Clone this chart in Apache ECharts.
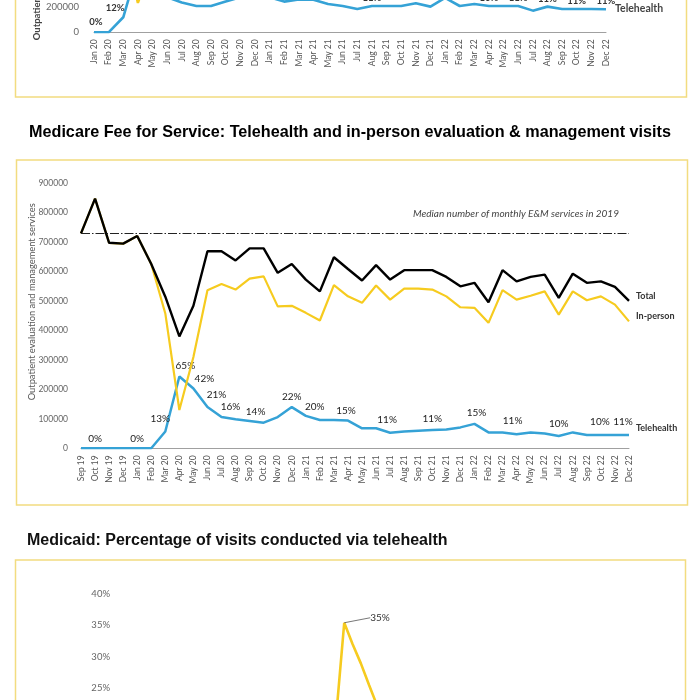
<!DOCTYPE html>
<html><head><meta charset="utf-8">
<script src="https://cdn.jsdelivr.net/npm/echarts@6/dist/echarts.min.js"></script>
<style>html,body{margin:0;padding:0;background:#fff}#c{width:700px;height:700px}</style>
</head><body><div id="c"></div>
<script>
// ---------- DATA ----------
const topMonths = ['Jan 20','Feb 20','Mar 20','Apr 20','May 20','Jun 20','Jul 20','Aug 20','Sep 20','Oct 20','Nov 20','Dec 20',
 'Jan 21','Feb 21','Mar 21','Apr 21','May 21','Jun 21','Jul 21','Aug 21','Sep 21','Oct 21','Nov 21','Dec 21',
 'Jan 22','Feb 22','Mar 22','Apr 22','May 22','Jun 22','Jul 22','Aug 22','Sep 22','Oct 22','Nov 22','Dec 22'];
const topTotal = [1010000,940000,840000,755000,990000,1100000,1088000,1040000,1080000,1125000,1040000,1060000,
 1010000,945000,1112000,1060000,1006000,1060000,976000,1040000,1040000,1030000,1032000,955000,
 1015000,900000,1046000,1000000,1010000,1020000,893000,1015000,966000,976000,946000,884000];
const topInPerson = [1010000,940000,720000,235000,560000,820000,850000,830000,870000,880000,760000,760000,
 730000,700000,850000,800000,780000,850000,790000,830000,830000,820000,800000,750000,
 740000,690000,820000,790000,800000,810000,720000,810000,780000,790000,760000,700000];
const topTele = [0,0,120000,520000,430000,280000,238000,210000,210000,245000,280000,300000,
 280000,245000,262000,260000,226000,210000,186000,210000,210000,210000,232000,205000,
 275000,210000,226000,210000,210000,210000,173000,205000,186000,186000,186000,184000];
const topTeleLabels = ['0%','','12%','','','','','','','','','','','','','','','','','11%','','','','','','','','10%','','11%','','11%','','11%','','11%'];

const mcMonths = ['Sep 19','Oct 19','Nov 19','Dec 19','Jan 20','Feb 20','Mar 20','Apr 20','May 20','Jun 20','Jul 20','Aug 20','Sep 20','Oct 20','Nov 20','Dec 20',
 'Jan 21','Feb 21','Mar 21','Apr 21','May 21','Jun 21','Jul 21','Aug 21','Sep 21','Oct 21','Nov 21','Dec 21',
 'Jan 22','Feb 22','Mar 22','Apr 22','May 22','Jun 22','Jul 22','Aug 22','Sep 22','Oct 22','Nov 22','Dec 22'];
const mcTotal = [730000,848000,698000,695000,721000,626000,515000,380000,484000,669000,669000,638000,679000,679000,596000,626000,
 573000,533000,649000,609000,570000,622000,573000,605000,605000,605000,582000,550000,
 562000,496000,605000,567000,582000,590000,511000,593000,562000,567000,548000,501000];
const mcInPerson = [730000,848000,698000,695000,721000,626000,458000,130000,310000,537000,558000,539000,576000,584000,482000,484000,
 460000,434000,554000,516000,494000,553000,505000,542000,542000,539000,516000,479000,
 477000,426000,537000,505000,518000,533000,454000,533000,503000,516000,488000,431000];
const mcTele = [0,0,0,0,0,0,57000,244000,203000,140000,106000,99000,93000,87000,106000,140000,
 110000,96000,96000,94000,68000,68000,53000,57000,60000,62000,64000,71000,
 83000,54000,54000,48000,54000,50000,42000,54000,45000,45000,45000,45000];
const mcTeleLabels = ['','0%','','','0%','','13%','65%','42%','21%','16%','','14%','','','22%','20%','','','15%','','','11%','','','11%','','','15%','','','11%','','','10%','','','10%','','11%'];
const mcMedian2019 = 730000;

const mdMonths = ['Jan 18','Feb 18','Mar 18','Apr 18','May 18','Jun 18','Jul 18','Aug 18','Sep 18','Oct 18','Nov 18','Dec 18',
 'Jan 19','Feb 19','Mar 19','Apr 19','May 19','Jun 19','Jul 19','Aug 19','Sep 19','Oct 19','Nov 19','Dec 19',
 'Jan 20','Feb 20','Mar 20','Apr 20','May 20','Jun 20','Jul 20','Aug 20','Sep 20','Oct 20','Nov 20','Dec 20',
 'Jan 21','Feb 21','Mar 21','Apr 21','May 21','Jun 21','Jul 21','Aug 21','Sep 21','Oct 21','Nov 21','Dec 21',
 'Jan 22','Feb 22','Mar 22','Apr 22','May 22','Jun 22','Jul 22','Aug 22','Sep 22','Oct 22','Nov 22','Dec 22'];
const mdPct = [0.4,0.4,0.4,0.5,0.4,0.4,0.4,0.5,0.5,0.5,0.5,0.5,
 0.5,0.5,0.6,0.6,0.6,0.6,0.6,0.7,0.7,0.7,0.7,0.7,
 0.8,0.8,20.0,35.4,32.0,28.9,25.4,22.0,20.5,19.5,20.5,21.5,
 21.0,19.0,17.5,16.0,15.0,14.0,14.5,15.0,14.0,13.5,14.0,14.5,
 14.5,13.0,12.0,11.5,11.0,11.0,11.0,11.0,10.5,10.5,11.0,11.0];
const mdLabels = ['','','','','','','','','','','','','','','','','','','','','','','','','','','','35%'];

// ---------- STYLE ----------
const YELLOW = '#F6CB1F', BLUE = '#35A2D6', BLACK = '#000', BORDER = '#F2DC80';
const FONT = 'Lato, "Open Sans", sans-serif';
const TITLEFONT = '"Liberation Sans", Arial, sans-serif';
const topShift = {0:[2,0], 2:[-8,1], 19:[0,2], 27:[0,2], 29:[0,2], 31:[0,2], 33:[0,2], 35:[0,2]};
const mcShift = {6:[-5,-3],7:[6,-1],8:[11,0],9:[9,-2],10:[9,0],12:[6,1],16:[9,1],19:[-2,0],22:[-3,-3],25:[0,-1],28:[2,-1],31:[-4,-3],34:[0,-2],37:[-1,-3],39:[-6,-3]};

function withLabels(vals, texts, shift, style) {
  return vals.map((v, i) => {
    const t = texts[i] || '';
    if (!t) return v;
    return { value: v, label: Object.assign({ show: true, formatter: t, offset: shift[i] || [0, 0] }, style) };
  });
}
const plain = v => String(v);

function catAxis(gi, data) {
  return {
    gridIndex: gi, type: 'category', data: data, boundaryGap: false,
    axisLine: { show: true, lineStyle: { color: '#a0a0a0', width: 1 } },
    axisTick: { show: false },
    axisLabel: { rotate: 90, interval: 0, fontSize: 8.5, color: '#555', margin: 7, fontFamily: FONT }
  };
}
const yName = 'Outpatient evaluation and management services';
const lblSym = { symbol: 'circle', symbolSize: 0, showSymbol: true, showAllSymbol: true };

const option = {
  animation: false,
  backgroundColor: '#fff',
  title: [
    { text: 'Medicare Fee for Service: Telehealth and in-person evaluation & management visits', left: 'center', top: 120,
      textStyle: { fontSize: 16.2, fontWeight: 'bold', color: '#000', fontFamily: TITLEFONT } },
    { text: 'Medicaid: Percentage of visits conducted via telehealth', left: 22, top: 528,
      textStyle: { fontSize: 16, fontWeight: 'bold', color: '#111', fontFamily: TITLEFONT } },
    { text: 'Median number of monthly E&M services in 2019', left: 408, top: 204,
      textStyle: { fontSize: 10, fontStyle: 'italic', fontWeight: 'normal', color: '#444', fontFamily: FONT } }
  ],
  graphic: [
    { type: 'rect', shape: { x: 15.5, y: -20, width: 671, height: 117 }, style: { fill: 'none', stroke: BORDER, lineWidth: 1.5 }, z: -1 },
    { type: 'rect', shape: { x: 16.5, y: 160, width: 671, height: 345 }, style: { fill: 'none', stroke: BORDER, lineWidth: 1.5 }, z: -1 },
    { type: 'rect', shape: { x: 15.5, y: 560, width: 670, height: 200 }, style: { fill: 'none', stroke: BORDER, lineWidth: 1.5 }, z: -1 }
  ],
  grid: [
    { left: 94, right: 94, top: -118, height: 150.3, containLabel: false, outerBoundsMode: 'none' },
    { left: 81, right: 71, top: 183.3, height: 265, containLabel: false, outerBoundsMode: 'none' },
    { left: 120, right: 90, top: 594, height: 250, containLabel: false, outerBoundsMode: 'none' }
  ],
  xAxis: [catAxis(0, topMonths), catAxis(1, mcMonths), catAxis(2, mdMonths)],
  yAxis: [
    { gridIndex: 0, type: 'value', min: 0, max: 1200000, interval: 200000, splitLine: { show: false },
      axisLine: { show: false }, axisTick: { show: false },
      axisLabel: { fontSize: 9.5, color: '#666', margin: 15, fontFamily: FONT, formatter: plain },
      name: yName, nameLocation: 'middle', nameGap: 52, nameMoveOverlap: false,
      nameTextStyle: { fontSize: 9.5, color: '#444', fontFamily: FONT, fontWeight: 'bold', padding: [0, 0, 0, 38] } },
    { gridIndex: 1, type: 'value', min: 0, max: 900000, interval: 100000, splitLine: { show: false },
      axisLine: { show: false }, axisTick: { show: false },
      axisLabel: { fontSize: 8.5, color: '#666', margin: 13, fontFamily: FONT, formatter: plain },
      name: yName, nameLocation: 'middle', nameGap: 45, nameMoveOverlap: false,
      nameTextStyle: { fontSize: 9.3, color: '#555', fontFamily: FONT, padding: [0, 0, 0, 28] } },
    { gridIndex: 2, type: 'value', min: 0, max: 40, interval: 5, splitLine: { show: false },
      axisLine: { show: false }, axisTick: { show: false },
      axisLabel: { fontSize: 9.5, color: '#666', margin: 10, formatter: '{value}%', fontFamily: '"Liberation Sans Narrow", ' + FONT } }
  ],
  series: [
    // top chart
    { name: 'In-person', type: 'line', xAxisIndex: 0, yAxisIndex: 0, data: topInPerson, symbol: 'none', z: 3,
      lineStyle: { color: YELLOW, width: 2.5 }, itemStyle: { color: YELLOW } },
    { name: 'Total', type: 'line', xAxisIndex: 0, yAxisIndex: 0, data: topTotal, symbol: 'none', z: 4,
      lineStyle: { color: BLACK, width: 2.3 }, itemStyle: { color: BLACK } },
    Object.assign({ name: 'Telehealth', type: 'line', xAxisIndex: 0, yAxisIndex: 0, z: 2,
      data: withLabels(topTele, topTeleLabels, topShift, { fontSize: 9.5, fontWeight: 'bold', color: '#333', fontFamily: FONT }),
      lineStyle: { color: BLUE, width: 2.6 }, itemStyle: { color: BLUE },
      label: { show: false, position: 'top' },
      endLabel: { show: true, formatter: '{a}', distance: 9, offset: [0, -1], fontSize: 10.5, fontWeight: 'bold', color: '#444', fontFamily: FONT } }, lblSym),
    // middle chart
    Object.assign({ name: 'Telehealth', type: 'line', xAxisIndex: 1, yAxisIndex: 1, z: 2,
      data: withLabels(mcTele, mcTeleLabels, mcShift, { fontSize: 10, color: '#222', fontFamily: FONT }),
      lineStyle: { color: BLUE, width: 2.5 }, itemStyle: { color: BLUE },
      label: { show: false, position: 'top' },
      endLabel: { show: true, formatter: '{a}', distance: 7, offset: [0, -7], fontSize: 9, fontWeight: 'bold', color: '#333', fontFamily: FONT } }, lblSym),
    { name: 'In-person', type: 'line', xAxisIndex: 1, yAxisIndex: 1, data: mcInPerson, symbol: 'none', z: 3,
      lineStyle: { color: YELLOW, width: 2.2 }, itemStyle: { color: YELLOW },
      endLabel: { show: true, formatter: '{a}', distance: 7, offset: [0, -5], fontSize: 9, fontWeight: 'bold', color: '#333', fontFamily: FONT } },
    { name: 'Total', type: 'line', xAxisIndex: 1, yAxisIndex: 1, data: mcTotal, symbol: 'none', z: 4,
      lineStyle: { color: BLACK, width: 2.4 }, itemStyle: { color: BLACK },
      endLabel: { show: true, formatter: '{a}', distance: 7, offset: [0, -5], fontSize: 9, fontWeight: 'bold', color: '#333', fontFamily: FONT },
      markLine: { symbol: 'none', silent: true, label: { show: false },
        lineStyle: { color: '#222', width: 1, type: [9, 2, 1.5, 2] },
        data: [{ yAxis: mcMedian2019 }] } },
    // bottom chart
    Object.assign({ name: 'Medicaid', type: 'line', xAxisIndex: 2, yAxisIndex: 2, z: 3,
      data: withLabels(mdPct, mdLabels, {}, {}),
      lineStyle: { color: YELLOW, width: 2.6 }, itemStyle: { color: YELLOW },
      label: { show: false, position: 'right', distance: 4, fontSize: 10, color: '#333', fontFamily: '"Liberation Sans Narrow", ' + FONT },
      labelLine: { show: true, lineStyle: { color: '#555', width: 0.8 } },
      labelLayout: function (p) { return p.dataIndex === 27 ? { dx: 22, dy: -5 } : {}; } }, lblSym)
  ]
};
const chart = echarts.init(document.getElementById('c'), null, { renderer: 'canvas' });
chart.setOption(option);
</script></body></html>
